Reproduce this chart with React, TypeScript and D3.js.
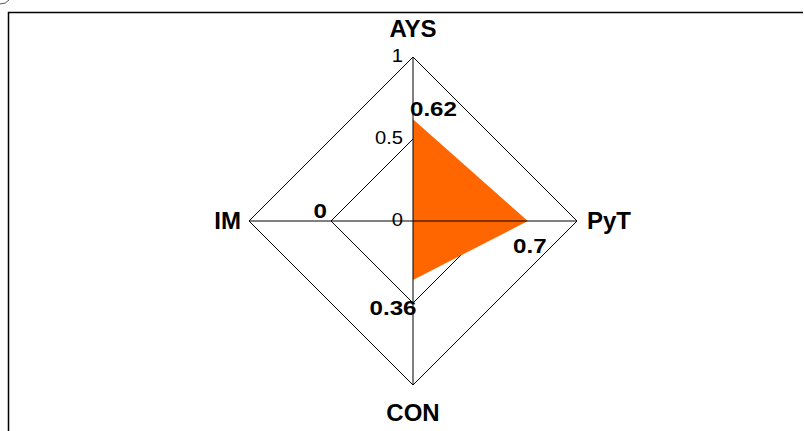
import React from 'react';
import * as d3 from 'd3';

const width = 804;
const height = 431;
const cx = 413;
const cy = 221;
const radius = 164;

const axes = ['AYS', 'PyT', 'CON', 'IM'];
const values = [0.62, 0.7, 0.36, 0];
const levels = [0.5, 1];
const tickLabels = ['0', '0.5', '1'];
const tickValues = [0, 0.5, 1];

const font = '"Liberation Sans", Arial, sans-serif';

// stretched text helper: digits in the original are a bit wider than Arial
const Label = ({ x, y, anchor, size, bold, sx = 1, dy, children }: any) => (
  <g transform={`translate(${x},${y}) scale(${sx},1)`}>
    <text
      textAnchor={anchor}
      dy={dy}
      fontFamily={font}
      fontWeight={bold ? 'bold' : 'normal'}
      fontSize={size}
    >
      {children}
    </text>
  </g>
);

const App = () => {
  const r = d3.scaleLinear().domain([0, 1]).range([0, radius]);
  const step = (2 * Math.PI) / axes.length;

  const pt = (i: number, v: number): [number, number] => [
    cx + r(v) * Math.sin(i * step),
    cy - r(v) * Math.cos(i * step)
  ];

  const line = d3.line().curve(d3.curveLinearClosed);
  const ring = (lv: number) => line(axes.map((_, i) => pt(i, lv)));
  const area = line(values.map((v, i) => pt(i, v)));

  // label offsets per axis
  const axisLabelPos = [
    { dx: 0, dy: -20, anchor: 'middle' },
    { dx: 10, dy: 8, anchor: 'start' },
    { dx: 0, dy: 36, anchor: 'middle' },
    { dx: -8, dy: 8, anchor: 'end' }
  ];
  const valueLabelPos = [
    { dx: -3, dy: -3, anchor: 'start' },
    { dx: 2, dy: 32, anchor: 'middle' },
    { dx: -20, dy: 35, anchor: 'middle' },
    { dx: -86, dy: -3, anchor: 'end' }
  ];

  return (
    <svg
      width={width}
      height={height}
      style={{ position: 'absolute', left: 0, top: 0, background: 'white' }}
    >
      <path d="M0,4 Q6,4 9,0" fill="none" stroke="#555" strokeWidth={1} />
      <path
        d={`M8.5,${height} V12.5 H803`}
        fill="none"
        stroke="#000"
        strokeWidth={1.5}
      />
      {levels.map(lv => (
        <path key={lv} d={ring(lv) || ''} fill="none" stroke="#000" strokeWidth={1} />
      ))}
      <path d={area || ''} fill="#FF6600" stroke="none" />
      {axes.map((a, i) => {
        const [x, y] = pt(i, 1);
        return <line key={a} x1={cx} y1={cy} x2={x} y2={y} stroke="#000" strokeWidth={1} />;
      })}
      {tickValues.map((t, i) => (
        <Label key={t} x={cx - 10} y={cy - r(t) - 1} dy="0.35em" anchor="end" size={18} sx={1.12}>
          {tickLabels[i]}
        </Label>
      ))}
      {axes.map((a, i) => {
        const [x, y] = pt(i, 1);
        const p = axisLabelPos[i];
        return (
          <Label key={a} x={x + p.dx} y={y + p.dy} anchor={p.anchor} size={24} bold>
            {a}
          </Label>
        );
      })}
      {values.map((v, i) => {
        const [x, y] = pt(i, v);
        const p = valueLabelPos[i];
        return (
          <Label key={axes[i]} x={x + p.dx} y={y + p.dy} anchor={p.anchor} size={21} bold sx={1.15}>
            {v}
          </Label>
        );
      })}
    </svg>
  );
};

export default App;
